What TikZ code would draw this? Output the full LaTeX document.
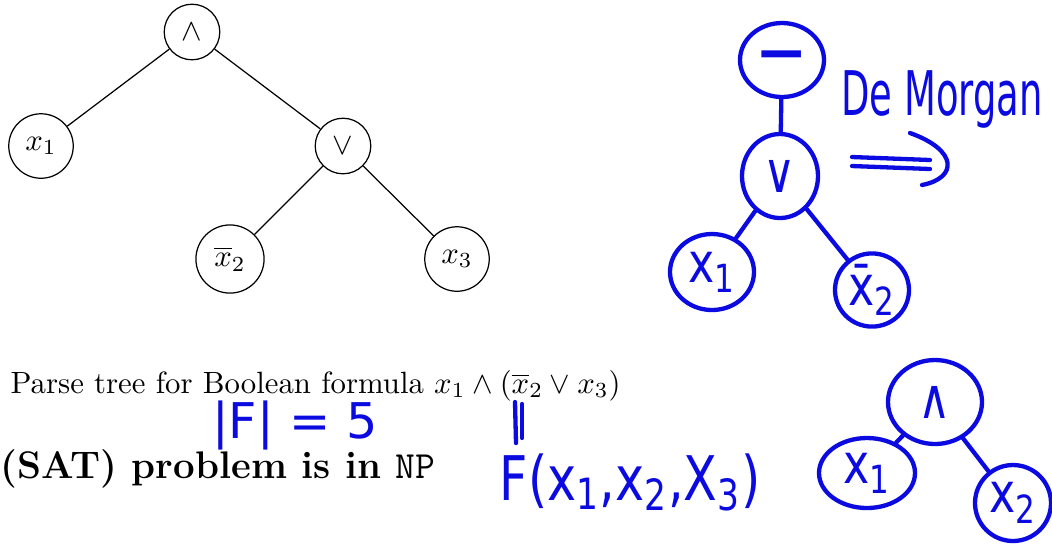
\documentclass[tikz,border=0pt]{standalone}
\usepackage{fontspec}
\usepackage{tikz}
\usetikzlibrary{shapes.geometric}
\newfontfamily\handfont[FakeStretch=0.8]{DejaVu Sans}
\newfontfamily\handnarrow[FakeStretch=0.6]{DejaVu Sans}
\newfontfamily\handwide{DejaVu Sans}
\definecolor{ink}{RGB}{10,10,225}
\newcommand{\px}{0.325pt}

\begin{document}
\begin{tikzpicture}[x=\px, y=-\px,
  vertex/.style={circle, draw},
  pen/.style={draw=ink, line width=1.4pt, line cap=round, line join=round},
  bubble/.style={pen, ellipse, inner sep=0pt, text=ink, font=\handfont\fontsize{18}{18}\selectfont},
  wh/.style 2 args={minimum width=#1*\px, minimum height=#2*\px},
  scrawl/.style={text=ink, inner sep=0pt}]

\useasboundingbox (0,0) rectangle (1052,546);

% parse tree
\node[vertex] (root) at (192,32) {$\wedge$};
\node[vertex] (x1) at (41,146) {$x_1$};
\node[vertex] (orop) at (343,146) {$\vee$};
\node[vertex] (x2) at (230,259) {$\overline{x}_2$};
\node[vertex] (x3) at (457,259) {$x_3$};
\draw (root) -- (x1);
\draw (root) -- (orop);
\draw (orop) -- (x2);
\draw (orop) -- (x3);

\node[anchor=base west, inner sep=0pt] (cap) at (10,393)
  {Parse tree for Boolean formula $x_1 \wedge (\overline{x}_2 \vee x_3)$};
\node[anchor=base west, inner sep=0pt, font=\fontsize{12.5}{15}\selectfont\bfseries] (sat) at (0,478)
  {(SAT) problem is in \texttt{\mdseries NP}};

% notes on the slide
\node[scrawl, font=\handwide\fontsize{16}{16}\selectfont] (size) at (295,425) {|F| = 5};
\coordinate (eqa) at (515,402);
\coordinate (eqb) at (516,443);
\coordinate (eqc) at (522,404);
\coordinate (eqd) at (522,438);
\draw[pen] (eqa) -- (eqb);
\draw[pen] (eqc) -- (eqd);
\node[scrawl, font=\handfont\fontsize{20}{20}\selectfont] (func) at (630,482)
  {F(x\textsubscript{1},x\textsubscript{2},X\textsubscript{3})};

% negated or
\node[bubble, wh={84}{74}] (neg) at (782,60) {\bfseries —};
\node[bubble, wh={76}{84}] (disj) at (780,176) {∨};
\node[bubble, wh={84}{76}] (lita) at (712,272) {x\textsubscript{1}};
\node[bubble, wh={74}{66}] (litb) at (872,290) {\={x}\textsubscript{2}};
\draw[pen] (neg) -- (disj);
\draw[pen] (disj) -- (lita);
\draw[pen] (disj) -- (litb);

\node[scrawl, anchor=base, font=\handnarrow\fontsize{20}{20}\selectfont] (rule) at (942,115) {De Morgan};
\coordinate (ra) at (852,157);
\coordinate (rb) at (930,160);
\coordinate (rc) at (852,166);
\coordinate (rd) at (930,169);
\coordinate (tipa) at (910,133);
\coordinate (tipb) at (922,185);
\draw[pen] (ra) -- (rb);
\draw[pen] (rc) -- (rd);
\draw[pen] (tipa) .. controls (958,150) and (958,178) .. (tipb);

% and node
\node[bubble, wh={94}{84}] (conj) at (935,402) {∧};
\node[bubble, wh={96}{70}] (litc) at (867,473) {x\textsubscript{1}};
\node[bubble, wh={76}{76}] (litd) at (1013,503) {x\textsubscript{2}};
\draw[pen] (conj) -- (litc);
\draw[pen] (conj) -- (litd);

\end{tikzpicture}
\end{document}
